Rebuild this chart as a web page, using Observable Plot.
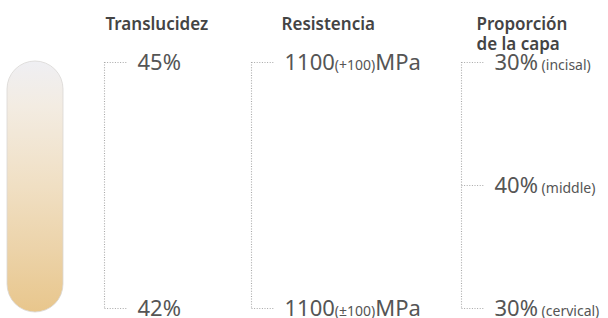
<!DOCTYPE html>
<html><head><meta charset="utf-8">
<script src="https://cdn.jsdelivr.net/npm/d3@7"></script>
<script src="https://cdn.jsdelivr.net/npm/@observablehq/plot@0.6"></script>
<style>body{margin:0;background:#fff} svg{display:block}</style>
</head><body><div id="chart"></div>
<script>
// ---- data ----
const columns = ["Translucidez", "Resistencia", "Proporción\nde la capa"];
const levels = ["incisal", "middle", "cervical"];
const levelDepth = [0, 0.5, 1];            // relative depth: incisal edge → cervical
const translucency = ["45%", "42%"];        // incisal, cervical
const strengthMain = ["1100", "1100"];
const strengthTol = ["(+100)", "(±100)"];
const strengthUnit = "MPa";
const proportion = [30, 40, 30];            // % of layer: incisal, middle, cervical

// ---- table built from the arrays ----
const rows = [
  {col: 0, depth: levelDepth[0], parts: [translucency[0]]},
  {col: 0, depth: levelDepth[2], parts: [translucency[1]]},
  {col: 1, depth: levelDepth[0], parts: [strengthMain[0], strengthTol[0], strengthUnit]},
  {col: 1, depth: levelDepth[2], parts: [strengthMain[1], strengthTol[1], strengthUnit]},
  ...proportion.map((p, i) => ({col: 2, depth: levelDepth[i], parts: [p + "%", " (" + levels[i] + ")"]}))
];
rows.forEach(r => r.label = r.parts.join(""));

// ---- layout (not data) ----
const bracketX = [104, 251, 461];
const titleX = [105, 281, 476];
const tickLen = 22, labelGap = 33;
const toothX = [7, 63];
const font = "'Noto Sans', 'Open Sans', sans-serif";

const brackets = columns.map((c, i) => ({col: i}));
const ticks = rows.map(r => ({col: r.col, depth: r.depth}));

const gradientDefs = () => {
  const defs = d3.create("svg:defs");
  const g = defs.append("linearGradient").attr("id", "tooth").attr("x1", 0).attr("y1", 0).attr("x2", 0).attr("y2", 1);
  [[0, "#efeff3"], [0.18, "#f3ece2"], [0.5, "#f0dfc3"], [0.75, "#ecd3a9"], [1, "#e8c68c"]]
    .forEach(([o, c]) => g.append("stop").attr("offset", o).attr("stop-color", c));
  return defs.node();
};

const dotted = {stroke: "#a8a8a8", strokeWidth: 1.1, strokeDasharray: "1,1.6"};

const plot = Plot.plot({
  width: 608, height: 318,
  margin: 0,
  style: {fontFamily: font, background: "#fff"},
  x: {domain: [0, 608], axis: null},
  y: {domain: [0, 1], range: [62, 308], axis: null},
  marks: [
    gradientDefs,
    Plot.rect([{}], {x1: () => toothX[0], x2: () => toothX[1], y1: () => levelDepth[0], y2: () => levelDepth[2],
      insetTop: -1, insetBottom: -4, rx: 28, fill: "url(#tooth)", stroke: "#d9d7d4", strokeWidth: 0.8}),
    Plot.ruleX(brackets, {x: d => bracketX[d.col], y1: () => levelDepth[0], y2: () => levelDepth[2], ...dotted}),
    Plot.link(ticks, {x1: d => bracketX[d.col], x2: d => bracketX[d.col] + tickLen, y1: "depth", y2: "depth", ...dotted}),
    Plot.text(columns, {x: (d, i) => titleX[i], frameAnchor: "top", text: d => d, textAnchor: "start",
      lineAnchor: "top", dy: 15, fontSize: 17, fontWeight: 600, fill: "#444", lineHeight: 1.2}),
    Plot.text(rows, {x: d => bracketX[d.col] + labelGap, y: "depth", text: "label", textAnchor: "start",
      lineAnchor: "middle", dy: 0, fontSize: 22, fill: "#555", letterSpacing: "-0.3px"})
  ]
});

// split each label into large/small runs (tspans), keeping text as real text
d3.select(plot).selectAll('g[font-size="22"] text').each(function(_, i) {
  const r = rows[i];
  const t = d3.select(this);
  t.text(null);
  r.parts.forEach((p, k) => {
    t.append("tspan").attr("font-size", k % 2 ? 14 : 22).text(p);
  });
});

document.getElementById("chart").append(plot);
</script>
</body></html>
